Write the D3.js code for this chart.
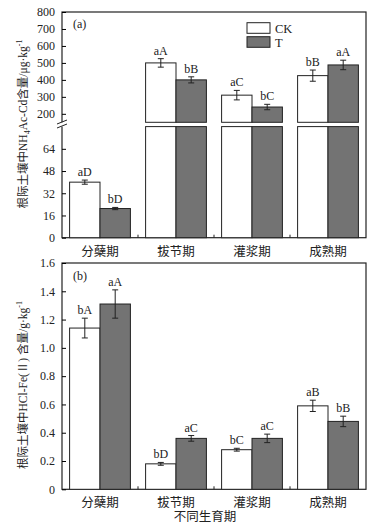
<!DOCTYPE html>
<html>
<head>
<meta charset="utf-8">
<script src="https://cdn.jsdelivr.net/npm/d3@7/dist/d3.min.js"></script>
<style>
  body { margin: 0; background: #fff; }
  svg text { font-family: "Liberation Serif", "Noto Sans CJK SC", serif; fill: #222; }
</style>
</head>
<body>
<div id="chart"></div>
<script>
// data
const stages = ["分蘖期", "拔节期", "灌浆期", "成熟期"];
const seriesNames = ["CK", "T"];

const cdCK = [40, 500, 310, 425];
const cdCKErr = [1.5, 25, 28, 33];
const cdT = [21, 400, 240, 488];
const cdTErr = [0.8, 18, 16, 28];
const cdLabelsCK = ["aD", "aA", "aC", "bB"];
const cdLabelsT = ["bD", "bB", "bC", "aA"];

const feCK = [1.14, 0.18, 0.28, 0.59];
const feCKErr = [0.07, 0.01, 0.01, 0.04];
const feT = [1.31, 0.36, 0.36, 0.48];
const feTErr = [0.10, 0.02, 0.03, 0.037];
const feLabelsCK = ["bA", "bD", "bC", "aB"];
const feLabelsT = ["aA", "aC", "aC", "bB"];

const cdLowTicks = [0, 16, 32, 48, 64];
const cdHighTicks = [200, 300, 400, 500, 600, 700, 800];
const feTicks = [0, 0.2, 0.4, 0.6, 0.8, 1.0, 1.2, 1.4, 1.6];

const colors = { CK: "#ffffff", T: "#737373" };

const width = 388, height = 528;
const left = 62, right = 366;

const svg = d3.select("#chart").append("svg")
    .attr("width", width)
    .attr("height", height);

const x = d3.scaleBand().domain(stages).range([left, right]).paddingInner(0.2).paddingOuter(0.1);
const xs = d3.scaleBand().domain(seriesNames).range([0, x.bandwidth()]);

function rows(ck, ckErr, t, tErr, lCK, lT) {
    let out = [];
    stages.forEach((s, i) => {
        out.push({ stage: s, series: "CK", v: ck[i], e: ckErr[i], label: lCK[i] });
        out.push({ stage: s, series: "T", v: t[i], e: tErr[i], label: lT[i] });
    });
    return out;
}

function drawErrors(g, data, yOf) {
    let eg = g.selectAll(".err").data(data).enter().append("g").attr("class", "err");
    let cx = d => x(d.stage) + xs(d.series) + xs.bandwidth() / 2;
    eg.append("line")
        .attr("x1", cx).attr("x2", cx)
        .attr("y1", d => yOf(d.v + d.e)).attr("y2", d => yOf(d.v - d.e))
        .attr("stroke", "#222").attr("stroke-width", 1);
    [1, -1].forEach(sgn => {
        eg.append("line")
            .attr("x1", d => cx(d) - 3).attr("x2", d => cx(d) + 3)
            .attr("y1", d => yOf(d.v + sgn * d.e)).attr("y2", d => yOf(d.v + sgn * d.e))
            .attr("stroke", "#222").attr("stroke-width", 1);
    });
    g.selectAll(".sig").data(data).enter().append("text")
        .attr("x", cx)
        .attr("y", d => yOf(d.v + d.e) - 4)
        .attr("text-anchor", "middle")
        .attr("font-size", 12)
        .text(d => d.label);
}

function drawBottom(g, yBase) {
    let bounds = stages.slice(1).map(s => x(s) - x.step() * x.paddingInner() / 2);
    g.selectAll(".btick").data(bounds).enter().append("line")
        .attr("x1", d => d).attr("x2", d => d)
        .attr("y1", yBase).attr("y2", yBase - 3)
        .attr("stroke", "#222");
    g.selectAll(".cat").data(stages).enter().append("text")
        .attr("x", d => x(d) + x.bandwidth() / 2)
        .attr("y", yBase + 18)
        .attr("text-anchor", "middle")
        .attr("font-size", 12.5)
        .text(d => d);
}

function frame(g, top, bottom) {
    g.append("rect")
        .attr("x", left).attr("y", top)
        .attr("width", right - left).attr("height", bottom - top)
        .attr("fill", "none").attr("stroke", "#222").attr("stroke-width", 1.2);
}

// ---------- panel (a) : broken axis ----------
const ga = svg.append("g");
const yLow = d3.scaleLinear().domain([0, 80]).range([237.7, 126.6]);
const yHigh = d3.scaleLinear().domain([150, 800]).range([122.3, 12]);
const cdBreak = 80;
const yCd = v => v > cdBreak ? yHigh(v) : yLow(v);

const cdData = rows(cdCK, cdCKErr, cdT, cdTErr, cdLabelsCK, cdLabelsT);

frame(ga, 12, 237.7);

// lower part of bars
ga.selectAll(".barLow").data(cdData).enter().append("rect")
    .attr("x", d => x(d.stage) + xs(d.series))
    .attr("width", xs.bandwidth())
    .attr("y", d => yLow(Math.min(d.v, cdBreak)))
    .attr("height", d => yLow(0) - yLow(Math.min(d.v, cdBreak)))
    .attr("fill", d => colors[d.series])
    .attr("stroke", "#222").attr("stroke-width", 1);
// upper part of bars
ga.selectAll(".barHigh").data(cdData.filter(d => d.v > cdBreak)).enter().append("rect")
    .attr("x", d => x(d.stage) + xs(d.series))
    .attr("width", xs.bandwidth())
    .attr("y", d => yHigh(d.v))
    .attr("height", d => yHigh(150) - yHigh(d.v))
    .attr("fill", d => colors[d.series])
    .attr("stroke", "#222").attr("stroke-width", 1);

drawErrors(ga, cdData, yCd);

ga.append("g").attr("transform", `translate(${left},0)`)
    .call(d3.axisLeft(yLow).tickValues(cdLowTicks).tickSize(-4).tickSizeOuter(0).tickPadding(7))
    .call(g => g.select(".domain").remove())
    .call(g => g.selectAll("text").attr("font-size", 12).attr("font-family", "Liberation Serif"));
ga.append("g").attr("transform", `translate(${left},0)`)
    .call(d3.axisLeft(yHigh).tickValues(cdHighTicks).tickSize(-4).tickSizeOuter(0).tickPadding(7))
    .call(g => g.select(".domain").remove())
    .call(g => g.selectAll("text").attr("font-size", 12).attr("font-family", "Liberation Serif"));

// axis break marks
ga.append("rect").attr("x", left - 2).attr("y", 122.3).attr("width", 4).attr("height", 4.3).attr("fill", "#fff");
[[0], [4]].forEach(([o]) => {
    ga.append("line")
        .attr("x1", left - 5).attr("y1", 124 + o)
        .attr("x2", left + 5).attr("y2", 120 + o)
        .attr("stroke", "#222").attr("stroke-width", 1);
});

drawBottom(ga, 237.7);

ga.append("text").attr("x", 73).attr("y", 28).attr("font-size", 12).text("(a)");

// legend
const lg = ga.append("g");
seriesNames.forEach((s, i) => {
    lg.append("rect")
        .attr("x", 247).attr("y", 22.7 + i * 14)
        .attr("width", 23).attr("height", 10.6)
        .attr("fill", colors[s]).attr("stroke", "#222").attr("stroke-width", 1);
    lg.append("text")
        .attr("x", 275).attr("y", 32.5 + i * 14)
        .attr("font-size", 12.5)
        .text(s);
});

// y title (a)
const ta = ga.append("text")
    .attr("transform", "translate(27,124) rotate(-90)")
    .attr("text-anchor", "middle")
    .attr("font-size", 11.5);
ta.append("tspan").text("根际土壤中NH");
ta.append("tspan").attr("font-size", 8).attr("dy", 3).text("4");
ta.append("tspan").attr("dy", -3).text("Ac-Cd含量/μg·kg");
ta.append("tspan").attr("font-size", 8).attr("dy", -5).text("-1");

// ---------- panel (b) ----------
const gb = svg.append("g");
const yFe = d3.scaleLinear().domain([0, 1.6]).range([489.3, 263]);
const feData = rows(feCK, feCKErr, feT, feTErr, feLabelsCK, feLabelsT);

frame(gb, 263, 489.3);

gb.selectAll(".bar").data(feData).enter().append("rect")
    .attr("x", d => x(d.stage) + xs(d.series))
    .attr("width", xs.bandwidth())
    .attr("y", d => yFe(d.v))
    .attr("height", d => yFe(0) - yFe(d.v))
    .attr("fill", d => colors[d.series])
    .attr("stroke", "#222").attr("stroke-width", 1);

drawErrors(gb, feData, yFe);

gb.append("g").attr("transform", `translate(${left},0)`)
    .call(d3.axisLeft(yFe).tickValues(feTicks).tickSize(-4).tickSizeOuter(0).tickPadding(7)
        .tickFormat(d => d === 0 ? "0" : d3.format(".1f")(d)))
    .call(g => g.select(".domain").remove())
    .call(g => g.selectAll("text").attr("font-size", 12).attr("font-family", "Liberation Serif"));

drawBottom(gb, 489.3);

gb.append("text").attr("x", 73).attr("y", 280).attr("font-size", 12).text("(b)");

const tb = gb.append("text")
    .attr("transform", "translate(27,385) rotate(-90)")
    .attr("text-anchor", "middle")
    .attr("font-size", 11.5);
tb.append("tspan").text("根际土壤中HCl-Fe(Ⅱ) 含量/g·kg");
tb.append("tspan").attr("font-size", 8).attr("dy", -5).text("-1");

gb.append("text")
    .attr("x", 205).attr("y", 521)
    .attr("text-anchor", "middle")
    .attr("font-size", 12.5)
    .text("不同生育期");
</script>
</body>
</html>
